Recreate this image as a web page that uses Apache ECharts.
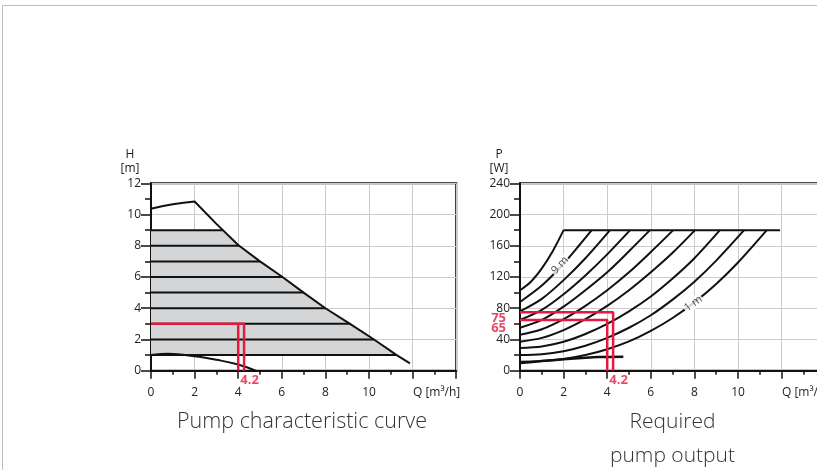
<!DOCTYPE html>
<html><head><meta charset="utf-8">
<script src="https://cdn.jsdelivr.net/npm/echarts@6/dist/echarts.min.js"></script>
<style>
html,body{margin:0;padding:0;background:#fff;overflow:hidden;}
#frame{position:absolute;left:2px;top:5px;width:820px;height:470px;border-top:1px solid #bdbdbd;border-left:1px solid #bdbdbd;}
#chart{position:absolute;left:0;top:0;width:817px;height:470px;}
</style></head><body>
<div id="frame"></div><div id="chart"></div>
<script>
// ---------- Pump characteristic curve (H over Q) ----------
const hMaxQ = [0, 0.5, 1, 1.5, 2, 3, 4, 5, 6, 7, 8, 9.13, 10.23, 11.27, 11.88];
const hMaxH = [10.37, 10.53, 10.66, 10.76, 10.83, 9.4, 8.05, 7.0, 6.03, 5.0, 4.0, 3.0, 2.0, 1.0, 0.47];
const hMinQ = [0, 0.8, 2, 3, 4, 4.8];
const hMinH = [1.0, 1.08, 0.93, 0.7, 0.4, 0.0];
const stepLevels = [1, 2, 3, 4, 5, 6, 7, 8, 9];
const stepEnds = [11.27, 10.23, 9.13, 8.0, 7.0, 6.03, 5.0, 4.05, 3.28];
const hDuty = 3;

// ---------- Required pump output (P over Q) ----------
const pMax = [[0,103],[0.5,114],[1,131],[1.5,153],[2,180]];
const p9m = [[0,88],[1,109],[2,137],[2.7,160],[3.29,180]];
const p8m = [[0,76],[1,92],[2,116],[3,144],[4.13,180]];
const p7m = [[0,65],[1,78],[2,98],[3,122],[4,149],[5.05,180]];
const p6m = [[0,55],[1,65],[2,82],[3,103],[4,126],[5,153],[5.96,180]];
const p5m = [[0,46],[1,53],[2,66],[3,83],[4,103],[5,126],[6,152],[7.03,180]];
const p4m = [[0,37],[1,42],[2,52],[3,66],[4,83],[5,103],[6,126],[7,151],[8.03,180]];
const p3m = [[0,29],[1,31],[2,37],[3,47],[4,60],[5,76],[6,95],[7,118],[8,144],[9.17,180]];
const p2m = [[0,20],[1,21],[2,25],[3,32],[4,42],[5,55],[6,71],[7,91],[8,114],[9,141],[10.28,180]];
const p1m = [[0,11.5],[1,12.5],[2,15],[3,20],[4,27.5],[5,37.5],[6,51],[7,67.5],[8,87.5],[9,111],[10,138.5],[11.32,180]];
const pMinLine = [[0,9.7],[1,12.3],[2,14.6],[3,16.6],[3.6,17.5],[4.74,18]];
const pCapLine = [[2,180],[11.93,180]];
const pCurveLabels = ['9 m', '1 m'];
const pCurveLabelAt = [[1.83,135],[7.95,86]];
const pCurveLabelAngle = [48, 36];
const pDuty = [75, 65];

// ---------- duty point / ticks ----------
const qDutyA = 4.0, qDutyB = 4.27, qDutyText = '4.2';
const qTickValues = [0, 2, 4, 6, 8, 10];
const qAxisName = 'Q [m³/h]';
const hAxisName = 'H\n[m]';
const pAxisName = 'P\n[W]';
const titleLeft = 'Pump characteristic curve';
const titleRight = 'Required\npump output';

const FONT = 'Open Sans';
const BLACK = '#111';
const RED = '#e3193f';
const GRIDC = '#cbcbcb';

// fill polygon of the shaded H area (between H=1 and H=9 under the max curve)
const fillPoly = [[0, stepLevels[0]]];
for (let i = hMaxQ.length - 1; i >= 0; i--) {
  if (hMaxH[i] >= stepLevels[0] && hMaxH[i] <= stepLevels[stepLevels.length - 1]) fillPoly.push([hMaxQ[i], hMaxH[i]]);
}
fillPoly.push([stepEnds[stepEnds.length - 1], stepLevels[stepLevels.length - 1]]);
fillPoly.push([0, stepLevels[stepLevels.length - 1]]);

function xAxisCfg(gi) {
  return {
    type: 'value', gridIndex: gi, min: 0, max: 14, interval: 2,
    axisLine: { show: true, onZero: false, lineStyle: { color: BLACK, width: 2 } },
    axisTick: { show: true, inside: false, length: 8, lineStyle: { color: BLACK, width: 1.5 } },
    minorTick: { show: true, splitNumber: 2, length: 4, lineStyle: { color: BLACK, width: 1.5 } },
    splitLine: { show: true, lineStyle: { color: GRIDC, width: 1 } },
    axisLabel: {
      margin: 16, fontFamily: FONT, fontSize: 12, color: '#222', showMaxLabel: true,
      formatter: v => qTickValues.indexOf(v) >= 0 ? String(v) : (v === 12 ? '{q|' + qAxisName + '}' : ''),
      rich: { q: { fontFamily: FONT, fontSize: 12, color: '#222', padding: [0, 0, 0, 48] } }
    }
  };
}
function yAxisCfg(gi, max, interval, name) {
  return {
    type: 'value', gridIndex: gi, min: 0, max: max, interval: interval,
    name: name, nameLocation: 'end', nameGap: 8, nameMoveOverlap: false,
    nameTextStyle: { fontFamily: FONT, fontSize: 12, color: '#222', align: 'center', lineHeight: 14, padding: [0, 42, 0, 0] },
    axisLine: { show: true, onZero: false, lineStyle: { color: BLACK, width: 2 } },
    axisTick: { show: true, inside: false, length: 10, lineStyle: { color: BLACK, width: 1.5 } },
    minorTick: { show: true, splitNumber: 2, length: 6, lineStyle: { color: BLACK, width: 1.5 } },
    splitLine: { show: true, lineStyle: { color: GRIDC, width: 1 } },
    axisLabel: { margin: 10, fontFamily: FONT, fontSize: 12, color: '#222', showMaxLabel: true }
  };
}
function lineS(gi, data, opts) {
  return Object.assign({
    type: 'line', xAxisIndex: gi, yAxisIndex: gi, data: data, symbol: 'none', showSymbol: false,
    silent: true, animation: false, z: 3,
    lineStyle: { color: BLACK, width: 2 }
  }, opts || {});
}

const series = [];
// shaded area
series.push({
  type: 'custom', xAxisIndex: 0, yAxisIndex: 0, silent: true, animation: false, z: 1,
  data: [[0, 0]],
  renderItem: (params, api) => ({
    type: 'polygon',
    shape: { points: fillPoly.map(p => api.coord(p)) },
    style: { fill: '#d4d5d7' }
  })
});
// step lines
stepLevels.forEach((lvl, i) => series.push(lineS(0, [[0, lvl], [stepEnds[i], lvl]])));
// curves
series.push(lineS(0, hMaxQ.map((q, i) => [q, hMaxH[i]])));
series.push(lineS(0, hMinQ.map((q, i) => [q, hMinH[i]]), { smooth: 0.4 }));
// duty lines (left)
series.push(lineS(0, [[0, hDuty], [qDutyB, hDuty], [qDutyB, 0]], { z: 6, lineStyle: { color: RED, width: 2.5 } }));
series.push(lineS(0, [[qDutyA, hDuty], [qDutyA, 0]], { z: 6, lineStyle: { color: RED, width: 2.5 } }));

// right chart curves
[pMax, p9m, p8m, p7m, p6m, p5m, p4m, p3m, p2m, p1m].forEach(c =>
  series.push(lineS(1, c, { smooth: 0.3 })));
series.push(lineS(1, pMinLine, { smooth: 0.3, lineStyle: { color: BLACK, width: 2.5 } }));
series.push(lineS(1, pCapLine));
// duty lines (right)
series.push(lineS(1, [[0, pDuty[0]], [qDutyB, pDuty[0]], [qDutyB, 0]], { z: 6, lineStyle: { color: RED, width: 2.5 } }));
series.push(lineS(1, [[0, pDuty[1]], [qDutyA, pDuty[1]], [qDutyA, 0]], { z: 6, lineStyle: { color: RED, width: 2.5 } }));

// curve labels
series.push({
  type: 'scatter', xAxisIndex: 1, yAxisIndex: 1, silent: true, animation: false, z: 7,
  symbolSize: 0,
  data: pCurveLabelAt.map((p, i) => ({
    value: p,
    label: { show: true, position: 'inside', formatter: pCurveLabels[i], rotate: pCurveLabelAngle[i],
      fontFamily: FONT, fontSize: 11, color: '#222', backgroundColor: '#fff', padding: [0, 1] }
  }))
});
// red "4.2" labels
[0, 1].forEach(gi => series.push({
  type: 'scatter', xAxisIndex: gi, yAxisIndex: gi, silent: true, animation: false, z: 7,
  symbolSize: 0,
  data: [[4.2, 0]],
  label: { show: true, position: 'bottom', distance: 3, offset: [7, 0], formatter: qDutyText,
    fontFamily: FONT, fontSize: 13, fontWeight: 'bold', color: RED }
}));
// red "75" / "65" labels
series.push({
  type: 'scatter', xAxisIndex: 1, yAxisIndex: 1, silent: true, animation: false, z: 7,
  symbolSize: 0,
  data: pDuty.map((v, i) => ({
    value: [0, v],
    label: { show: true, position: 'left', distance: 14, offset: [0, i === 0 ? 6 : 8.5], formatter: String(v),
      fontFamily: FONT, fontSize: 13, fontWeight: 'bold', color: RED, lineHeight: 12 }
  }))
});

const GW = 14 * 21.8, GH = 187.4, GT = 183.3;
const option = {
  animation: false,
  backgroundColor: 'transparent',
  grid: [
    { left: 151, top: GT, width: GW, height: GH, show: true, borderColor: BLACK, borderWidth: 2, backgroundColor: 'transparent', containLabel: false, outerBoundsMode: 'none' },
    { left: 520, top: GT, width: GW, height: GH, show: true, borderColor: BLACK, borderWidth: 2, backgroundColor: 'transparent', containLabel: false, outerBoundsMode: 'none' }
  ],
  xAxis: [xAxisCfg(0), xAxisCfg(1)],
  yAxis: [yAxisCfg(0, 12, 2, hAxisName), yAxisCfg(1, 240, 40, pAxisName)],
  graphic: [
    { type: 'text', x: 302, y: 422, silent: true,
      style: { text: titleLeft, align: 'center', verticalAlign: 'middle', fontFamily: FONT, fontSize: 21.5, fontWeight: 300, fill: '#333' } },
    { type: 'text', x: 672.5, y: 439, silent: true,
      style: { text: titleRight, align: 'center', verticalAlign: 'middle', lineHeight: 34, fontFamily: FONT, fontSize: 21, fontWeight: 300, fill: '#333' } }
  ],
  series: series
};
const chart = echarts.init(document.getElementById('chart'));
chart.setOption(option);
</script>
</body></html>
